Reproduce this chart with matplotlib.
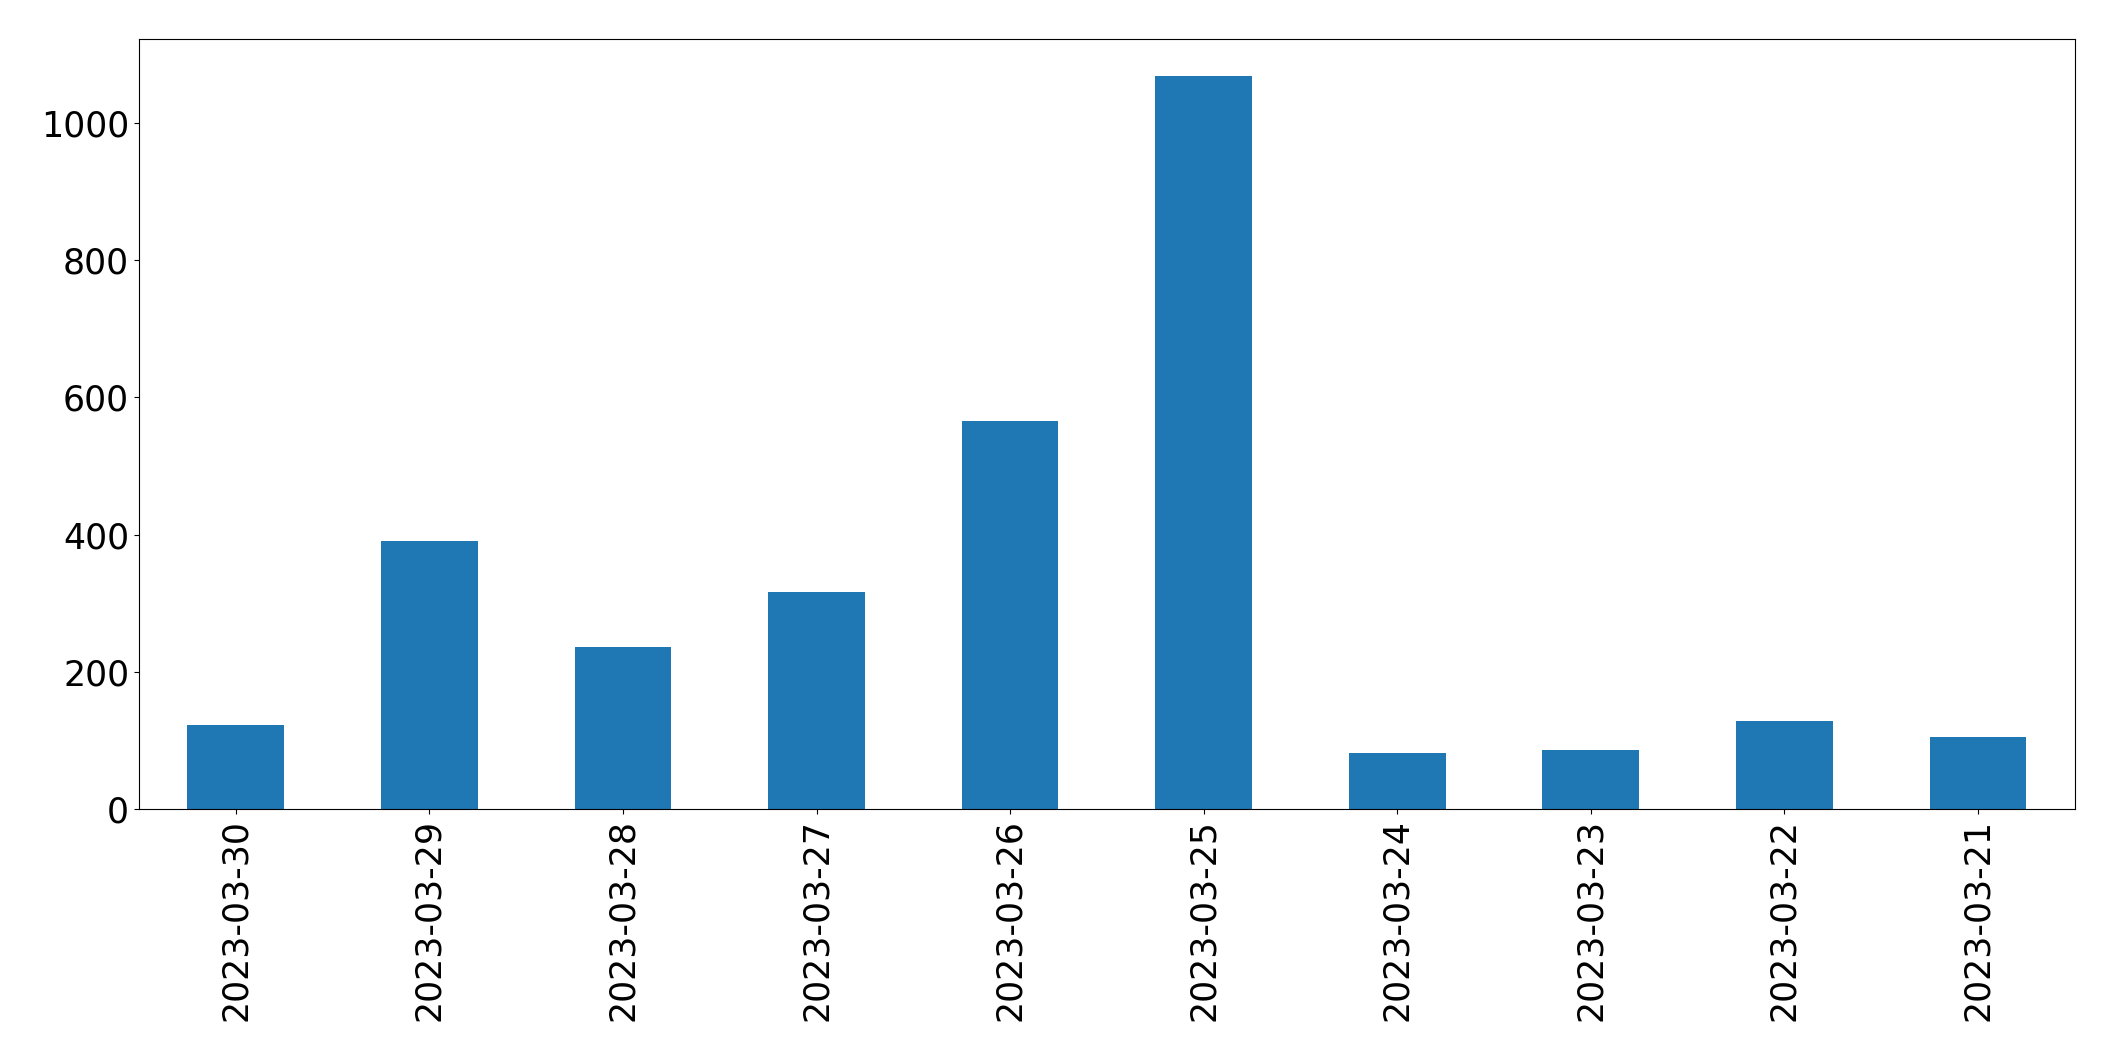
import matplotlib
matplotlib.use('Agg')
import matplotlib.pyplot as plt
import pandas as pd

dates = ['2023-03-30', '2023-03-29', '2023-03-28', '2023-03-27', '2023-03-26',
         '2023-03-25', '2023-03-24', '2023-03-23', '2023-03-22', '2023-03-21']
counts = [122, 391, 236, 316, 566, 1068, 82, 86, 128, 105]

series = pd.Series(counts, index=dates)

fig = plt.figure(figsize=(21.15, 10.61), dpi=100)
ax = fig.add_axes([0.0657, 0.2375, 0.9153, 0.7253])
series.plot.bar(ax=ax, color='#1f77b4', fontsize=25)
ax.tick_params(axis='x', labelrotation=90)
fig.savefig('out.png', dpi=100)
